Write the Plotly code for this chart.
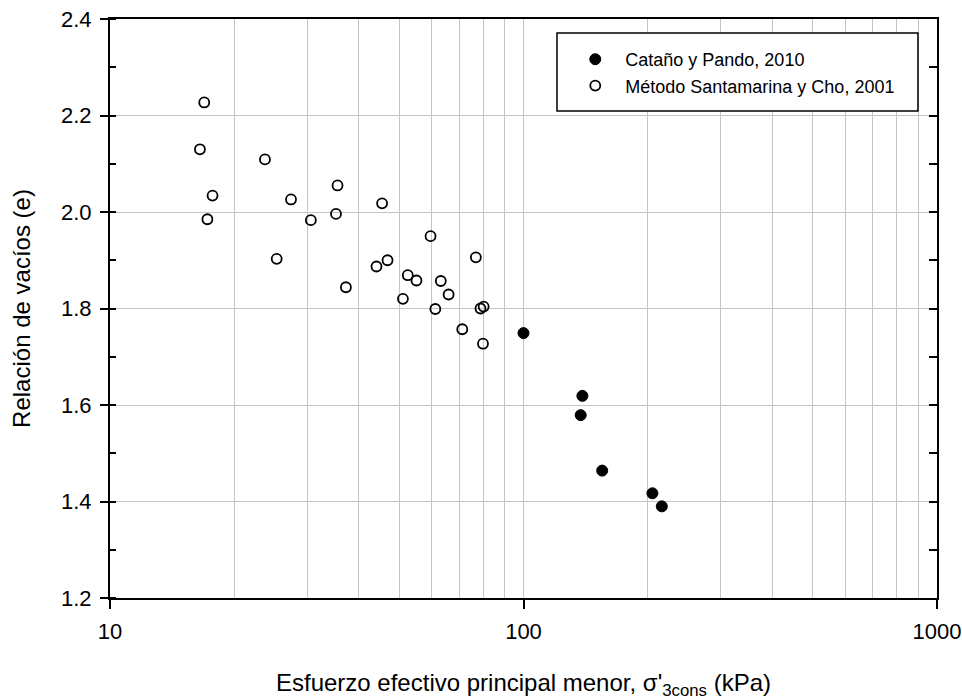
import plotly.graph_objects as go

# Data
cat_x = [100, 138.8, 137.5, 155, 205, 216]
cat_e = [1.749, 1.619, 1.579, 1.464, 1.417, 1.390]

san_x = [16.9, 16.5, 23.7, 17.7, 27.4, 35.5, 35.2, 17.2, 30.6, 25.3, 45.5, 59.6, 76.7,
         44.1, 46.9, 37.2, 52.5, 55.1, 63.1, 65.9, 51.1, 61.2, 78.7, 80.1, 71.1, 79.8]
san_e = [2.227, 2.130, 2.109, 2.034, 2.026, 2.055, 1.996, 1.985, 1.983, 1.903, 2.018, 1.950, 1.906,
         1.887, 1.900, 1.844, 1.869, 1.858, 1.857, 1.829, 1.820, 1.799, 1.800, 1.804, 1.757, 1.727]

x_major = [10, 100, 1000]
x_major_labels = ["10", "100", "1000"]
x_minor = [20, 30, 40, 50, 60, 70, 80, 90, 200, 300, 400, 500, 600, 700, 800, 900]

FONT = "Liberation Sans, Arial, sans-serif"
GRID = "#c4c4c4"

fig = go.Figure()
fig.add_trace(go.Scatter(
    x=cat_x, y=cat_e, mode="markers", name="Cataño y Pando, 2010",
    marker=dict(symbol="circle", size=11, color="black", line=dict(color="black", width=1)),
    legendgroup="a"))
fig.add_trace(go.Scatter(
    x=san_x, y=san_e, mode="markers", name="Método Santamarina y Cho, 2001",
    marker=dict(symbol="circle-open", size=10, color="black", line=dict(color="black", width=1.8)),
    legendgroup="b"))

fig.update_layout(
    width=962, height=700,
    margin=dict(l=110, r=25, t=19, b=102, autoexpand=False),
    paper_bgcolor="white", plot_bgcolor="white",
    font=dict(family=FONT, color="black", size=22),
    showlegend=True,
    legend=dict(x=0.5505, y=0.962, xanchor="left", yanchor="top",
                bgcolor="rgba(0,0,0,0)", borderwidth=0,
                font=dict(size=18, family=FONT), itemwidth=50,
                tracegroupgap=0),
    xaxis=dict(type="log", range=[1, 3], automargin=False,
               tickvals=x_major, ticktext=x_major_labels,
               ticks="outside", ticklen=9, tickwidth=1.5, tickcolor="black",
               ticklabelstandoff=4, ticklabeloverflow="allow",
               showline=True, linecolor="black", linewidth=2, mirror=True,
               showgrid=True, gridcolor=GRID, gridwidth=1,
               minor=dict(tickvals=x_minor, showgrid=True, gridcolor=GRID, gridwidth=1, ticks=""),
               zeroline=False,
               title=dict(text="Esfuerzo efectivo principal menor, σ'<sub>3cons</sub> (kPa)",
                          font=dict(size=24), standoff=32),
               tickfont=dict(size=22)),
    yaxis=dict(range=[1.2, 2.4], dtick=0.2, tick0=1.2, tickformat=".1f", automargin=False,
               ticks="outside", ticklen=8, tickwidth=1.5, tickcolor="black",
               ticklabelstandoff=4, ticklabeloverflow="allow",
               showline=True, linecolor="black", linewidth=2, mirror=True,
               showgrid=True, gridcolor=GRID, gridwidth=1,
               minor=dict(dtick=0.1, tick0=1.2, ticks="inside", ticklen=6, tickwidth=1.5,
                          tickcolor="black", showgrid=False),
               zeroline=False,
               title=dict(text="Relación de vacíos (e)", font=dict(size=24), standoff=24),
               tickfont=dict(size=22)),
    yaxis2=dict(overlaying="y", matches="y", side="right", range=[1.2, 2.4], automargin=False,
                dtick=0.1, tick0=1.2, ticks="inside", ticklen=8, tickwidth=1.5,
                tickcolor="black", showticklabels=False, showgrid=False,
                showline=False, zeroline=False),
)

# Legend frame
fig.add_shape(type="rect", xref="paper", yref="paper",
              x0=0.5405, x1=0.977, y0=0.841, y1=0.9758,
              line=dict(color="black", width=1.5), fillcolor="white", layer="above")

# invisible helper trace so the right-hand tick axis is drawn
fig.add_trace(go.Scatter(x=[cat_x[0]], y=[cat_e[0]], yaxis="y2", mode="markers",
                         marker=dict(opacity=0), showlegend=False, hoverinfo="skip"))

fig.write_html("out.html",
               config={"displayModeBar": False},
               post_script="document.body.style.margin='0';"
                           "document.documentElement.style.overflow='hidden';"
                           "document.body.style.overflow='hidden';")
